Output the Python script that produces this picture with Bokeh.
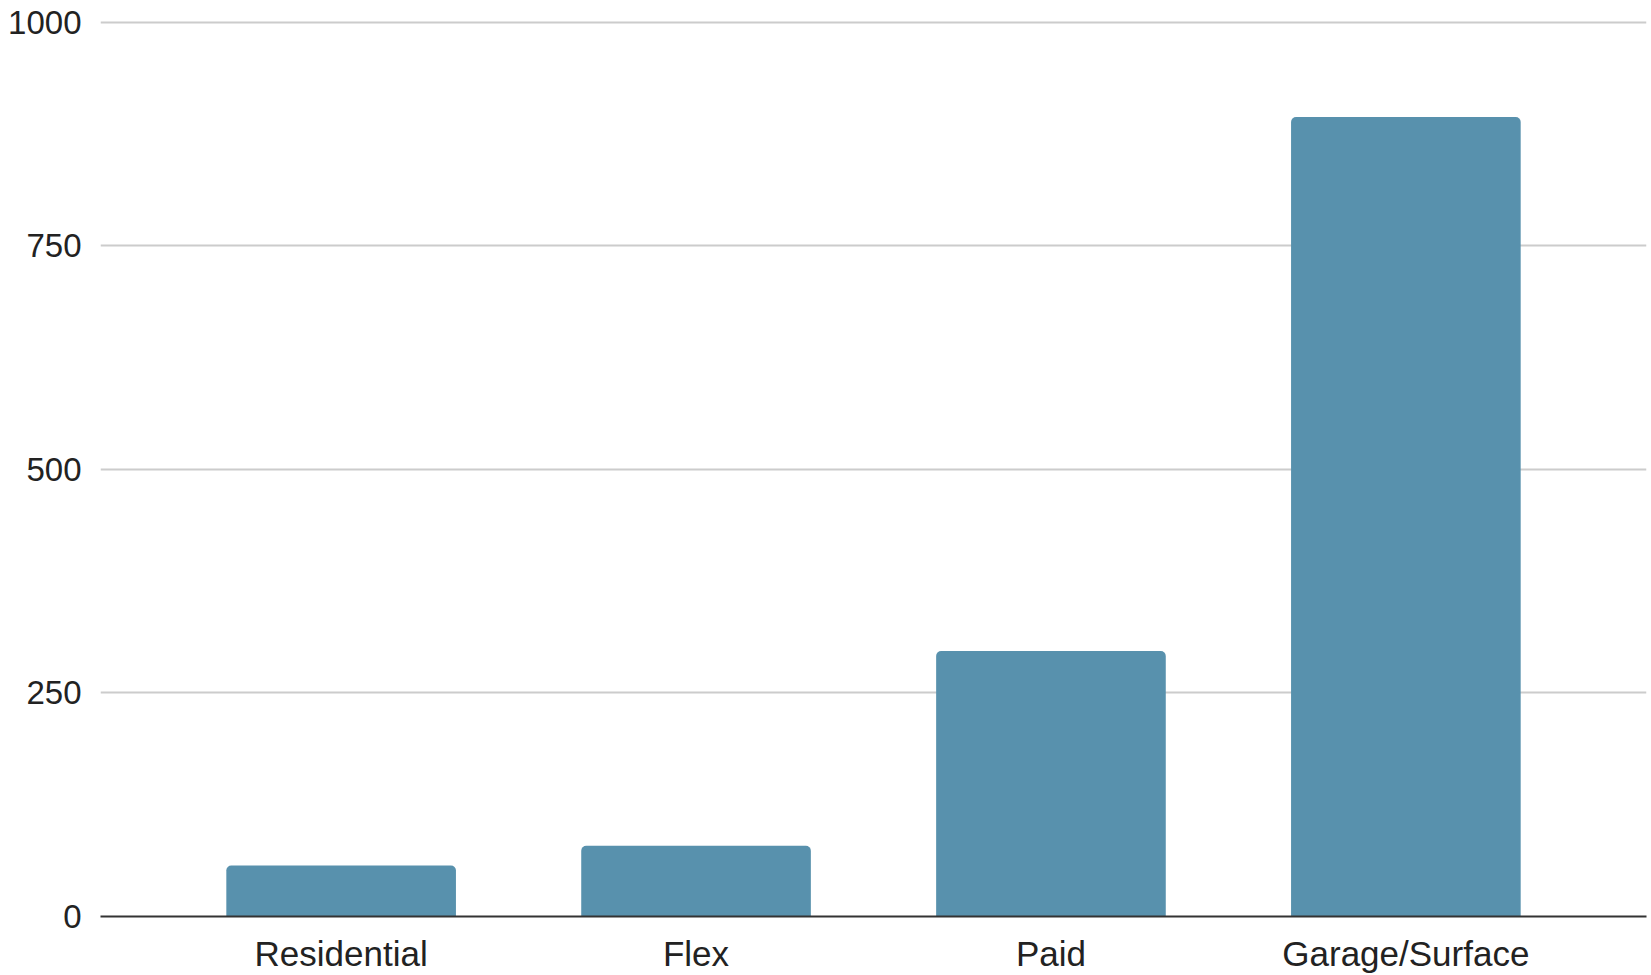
from bokeh.plotting import figure
from bokeh.models import FactorRange, Range1d, FixedTicker
from bokeh.embed import file_html
from bokeh.resources import INLINE

categories = ["Residential", "Flex", "Paid", "Garage/Surface"]
values = [57, 79, 297, 894]
y_ticks = [0, 250, 500, 750, 1000]

p = figure(
    x_range=FactorRange(*categories, range_padding=0.089, range_padding_units="percent"),
    y_range=Range1d(0, 1002),
    width=1651, height=975,
    output_backend="svg", toolbar_location=None,
    min_border_left=100, min_border_right=5, min_border_top=20, min_border_bottom=58,
)
p.outline_line_color = None
p.background_fill_color = "white"
p.border_fill_color = "white"

p.vbar(x=categories, top=values, width=0.647, bottom=0,
       fill_color="#5891ad", line_color=None,
       border_radius=(5, 5, 0, 0))

p.xgrid.grid_line_color = None
p.ygrid.grid_line_color = "#cccccc"
p.ygrid.grid_line_width = 2
p.ygrid.ticker = FixedTicker(ticks=y_ticks[1:])

p.yaxis.ticker = FixedTicker(ticks=y_ticks)
p.yaxis.axis_line_color = None
p.yaxis.major_tick_line_color = None
p.yaxis.minor_tick_line_color = None
p.yaxis.major_tick_out = 0
p.yaxis.major_tick_in = 0
p.yaxis.minor_tick_out = 0
p.yaxis.major_label_standoff = 19
p.yaxis.major_label_text_font = "Liberation Sans"
p.yaxis.major_label_text_font_size = "33px"
p.yaxis.major_label_text_color = "#222222"

p.xaxis.axis_line_color = "#333333"
p.xaxis.axis_line_width = 2
p.xaxis.major_tick_line_color = None
p.xaxis.minor_tick_line_color = None
p.xaxis.major_tick_out = 0
p.xaxis.major_tick_in = 0
p.xaxis.minor_tick_out = 0
p.xaxis.major_label_standoff = 17
p.xaxis.major_label_text_font = "Liberation Sans"
p.xaxis.major_label_text_font_size = "35px"
p.xaxis.major_label_text_color = "#222222"

open("out.html", "w").write(file_html(p, INLINE))
